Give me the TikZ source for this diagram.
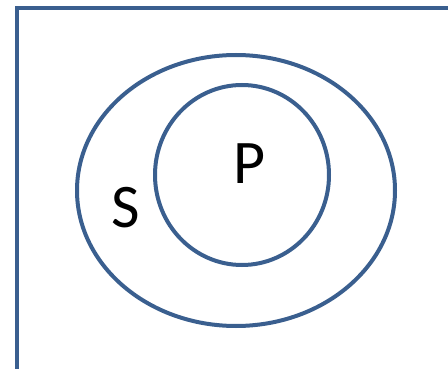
\documentclass[tikz,border=0pt]{standalone}
\usepackage{fontspec}
\setmainfont{Carlito}
\definecolor{vennblue}{HTML}{3A5F8F}
\begin{document}
\begin{tikzpicture}[x=1pt,y=-1pt,
  venn/.style={draw=vennblue,line width=4pt},
  lbl/.style={font=\fontsize{62}{62}\selectfont,text=black,inner sep=0pt}]
\useasboundingbox (0,0) rectangle (448,369);
\clip (0,0) rectangle (448,369);
\draw[venn,line join=miter] (16.5,380) -- (16.5,8) -- (460,8);
\draw[venn] (236,190.5) ellipse [x radius=159, y radius=135.5];
\draw[venn] (242,175) ellipse [x radius=87, y radius=90];
\node[lbl,anchor=base] (P) at (250,183) {P};
\node[lbl,anchor=base] (S) at (126,228) {S};
\end{tikzpicture}
\end{document}
